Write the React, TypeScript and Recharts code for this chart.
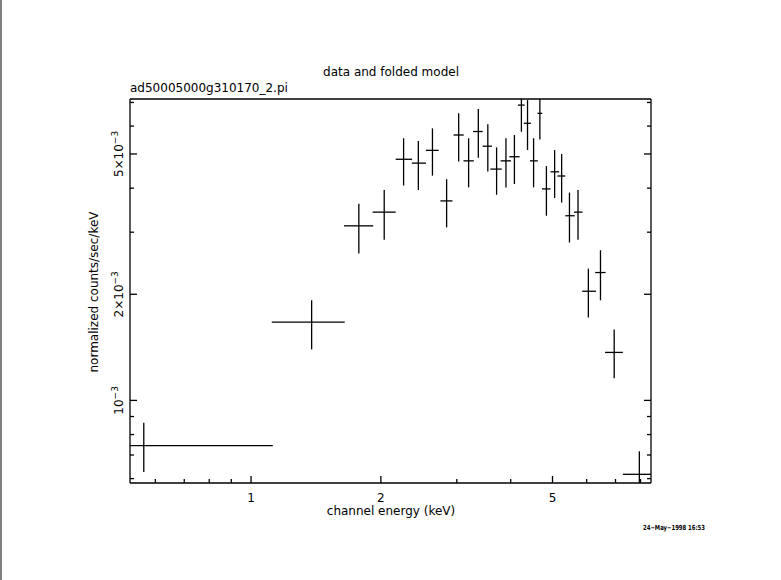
import { ErrorBar, Scatter, ScatterChart, XAxis, YAxis } from 'recharts'

// channel energy (keV) with bin edges
const energy = [0.564, 1.382, 1.778, 2.036, 2.258, 2.443, 2.634, 2.841, 3.03, 3.195, 3.365, 3.54, 3.71, 3.9, 4.08, 4.235, 4.376, 4.52, 4.674, 4.84, 5.057, 5.25, 5.474, 5.73, 6.055, 6.46, 6.95, 7.95]
const energyLow = [0.524, 1.117, 1.643, 1.914, 2.164, 2.359, 2.544, 2.748, 2.948, 3.109, 3.272, 3.444, 3.588, 3.79, 3.97, 4.157, 4.29, 4.432, 4.615, 4.727, 4.948, 5.133, 5.356, 5.61, 5.86, 6.28, 6.62, 7.28]
const energyHigh = [1.123, 1.649, 1.92, 2.164, 2.363, 2.544, 2.723, 2.931, 3.113, 3.285, 3.444, 3.62, 3.813, 4.006, 4.195, 4.31, 4.457, 4.624, 4.734, 4.948, 5.18, 5.356, 5.627, 5.87, 6.306, 6.64, 7.28, 8.46]

// normalized counts/sec/keV with 1-sigma bounds
const rate = [7.44e-4, 1.667e-3, 3.127e-3, 3.42e-3, 4.83e-3, 4.71e-3, 5.12e-3, 3.68e-3, 5.66e-3, 4.78e-3, 5.79e-3, 5.26e-3, 4.53e-3, 4.78e-3, 4.91e-3, 6.88e-3, 6.11e-3, 4.78e-3, 6.52e-3, 3.98e-3, 4.45e-3, 4.33e-3, 3.34e-3, 3.42e-3, 2.04e-3, 2.305e-3, 1.368e-3, 6.17e-4]
const rateLow = [6.26e-4, 1.395e-3, 2.61e-3, 2.856e-3, 4.07e-3, 3.95e-3, 4.34e-3, 3.095e-3, 4.76e-3, 4.02e-3, 4.88e-3, 4.46e-3, 3.83e-3, 4.02e-3, 4.11e-3, 5.78e-3, 5.13e-3, 4.02e-3, 5.5e-3, 3.34e-3, 3.75e-3, 3.64e-3, 2.805e-3, 2.856e-3, 1.719e-3, 1.923e-3, 1.155e-3, 5.83e-4]
const rateHigh = [8.64e-4, 1.923e-3, 3.61e-3, 3.95e-3, 5.54e-3, 5.44e-3, 5.91e-3, 4.24e-3, 6.52e-3, 5.54e-3, 6.71e-3, 6.07e-3, 5.22e-3, 5.54e-3, 5.66e-3, 7.16e-3, 7.11e-3, 5.54e-3, 7.16e-3, 4.62e-3, 5.13e-3, 5.0e-3, 3.886e-3, 3.95e-3, 2.365e-3, 2.666e-3, 1.589e-3, 7.17e-4]

const xTicks = [0.6, 0.7, 0.8, 0.9, 1, 2, 3, 4, 5, 6, 7, 8]
const xLabels: Record<number, string> = { 1: '1', 2: '2', 5: '5' }
const yTicks = [6e-4, 7e-4, 8e-4, 9e-4, 1e-3, 2e-3, 3e-3, 4e-3, 5e-3, 6e-3, 7e-3]
const yLabels: Record<number, string> = { 0.001: '10', 0.002: '2×10', 0.005: '5×10' }

const X_DOMAIN = [0.524, 8.46]
const Y_DOMAIN = [5.83e-4, 7.16e-3]

const FONT = '"DejaVu Sans", sans-serif'
const SW = 1.3

const data = energy.map((e, i) => ({
  e,
  v: rate[i],
  ex: [e - energyLow[i], energyHigh[i] - e],
  ey: [rate[i] - rateLow[i], rateHigh[i] - rate[i]],
}))

const isMajorX = (v: number) => xLabels[v] !== undefined
const isMajorY = (v: number) => yLabels[v] !== undefined

function BottomTick(props: any) {
  const { x, y, payload } = props
  const len = isMajorX(payload.value) ? 7 : 4
  return (
    <g>
      <line x1={x} x2={x} y1={y} y2={y - len} stroke="#000" strokeWidth={SW} />
      {isMajorX(payload.value) && (
        <text x={x} y={y + 19} textAnchor="middle" fontSize={12} fontFamily={FONT} fill="#000">
          {xLabels[payload.value]}
        </text>
      )}
    </g>
  )
}

function TopTick(props: any) {
  const { x, y, payload } = props
  const len = isMajorX(payload.value) ? 7 : 4
  return <line x1={x} x2={x} y1={y} y2={y + len} stroke="#000" strokeWidth={SW} />
}

function LeftTick(props: any) {
  const { x, y, payload } = props
  const major = isMajorY(payload.value)
  const tx = x - 7
  return (
    <g>
      <line x1={x} x2={x + (major ? 7 : 4)} y1={y} y2={y} stroke="#000" strokeWidth={SW} />
      {major && (
        <text
          x={tx}
          y={y}
          textAnchor="middle"
          transform={`rotate(-90, ${tx}, ${y})`}
          fontSize={12}
          fontFamily={FONT}
          fill="#000"
        >
          {yLabels[payload.value]}
          <tspan dy={-5} fontSize={9}>−3</tspan>
        </text>
      )}
    </g>
  )
}

function RightTick(props: any) {
  const { x, y, payload } = props
  const len = isMajorY(payload.value) ? 7 : 4
  return <line x1={x} x2={x - len} y1={y} y2={y} stroke="#000" strokeWidth={SW} />
}

export default function App() {
  const axisLine = { stroke: '#000', strokeWidth: SW }
  return (
    <div style={{ position: 'absolute', left: 0, top: 0, width: 781, height: 580, background: '#fff' }}>
      <ScatterChart width={781} height={580} margin={{ top: 98, right: 120, bottom: 67, left: 70 }}>
        <XAxis
          xAxisId="b"
          dataKey="e"
          type="number"
          scale="log"
          domain={X_DOMAIN}
          allowDataOverflow
          ticks={xTicks}
          interval={0}
          tick={BottomTick}
          tickLine={false}
          tickSize={0}
          tickMargin={0}
          height={30}
          axisLine={axisLine}
        />
        <XAxis
          xAxisId="t"
          orientation="top"
          type="number"
          scale="log"
          domain={X_DOMAIN}
          allowDataOverflow
          ticks={xTicks}
          interval={0}
          tick={TopTick}
          tickLine={false}
          tickSize={0}
          tickMargin={0}
          height={1}
          axisLine={axisLine}
        />
        <YAxis
          yAxisId="l"
          dataKey="v"
          type="number"
          scale="log"
          domain={Y_DOMAIN}
          allowDataOverflow
          ticks={yTicks}
          interval={0}
          tick={LeftTick}
          tickLine={false}
          tickSize={0}
          tickMargin={0}
          width={60}
          axisLine={axisLine}
        />
        <YAxis
          yAxisId="r"
          orientation="right"
          type="number"
          scale="log"
          domain={Y_DOMAIN}
          allowDataOverflow
          ticks={yTicks}
          interval={0}
          tick={RightTick}
          tickLine={false}
          tickSize={0}
          tickMargin={0}
          width={10}
          axisLine={axisLine}
        />
        <Scatter
          data={data}
          xAxisId="b"
          yAxisId="l"
          isAnimationActive={false}
          shape={() => <g />}
        >
          <ErrorBar dataKey="ex" direction="x" width={0} stroke="#000" strokeWidth={SW} isAnimationActive={false} />
          <ErrorBar dataKey="ey" direction="y" width={0} stroke="#000" strokeWidth={SW} isAnimationActive={false} />
        </Scatter>
      </ScatterChart>
      <svg width={781} height={580} style={{ position: 'absolute', left: 0, top: 0, pointerEvents: 'none' }}>
        <line x1={1} x2={1} y1={0} y2={580} stroke="#000" strokeWidth={1} />
        <text x={391} y={76} textAnchor="middle" fontSize={12} fontFamily={FONT} fill="#000">
          data and folded model
        </text>
        <text x={130} y={92} fontSize={12} fontFamily={FONT} fill="#000">
          ad50005000g310170_2.pi
        </text>
        <text
          x={98}
          y={292}
          textAnchor="middle"
          transform="rotate(-90, 98, 292)"
          fontSize={12}
          fontFamily={FONT}
          fill="#000"
        >
          normalized counts/sec/keV
        </text>
        <text x={391} y={515} textAnchor="middle" fontSize={12} fontFamily={FONT} fill="#000">
          channel energy (keV)
        </text>
        <text
          x={643}
          y={530}
          fontSize={7}
          fontWeight="bold"
          fontFamily={FONT}
          fill="#000"
          textLength={62}
          lengthAdjust="spacingAndGlyphs"
        >
          24−May−1998 16:53
        </text>
      </svg>
    </div>
  )
}
